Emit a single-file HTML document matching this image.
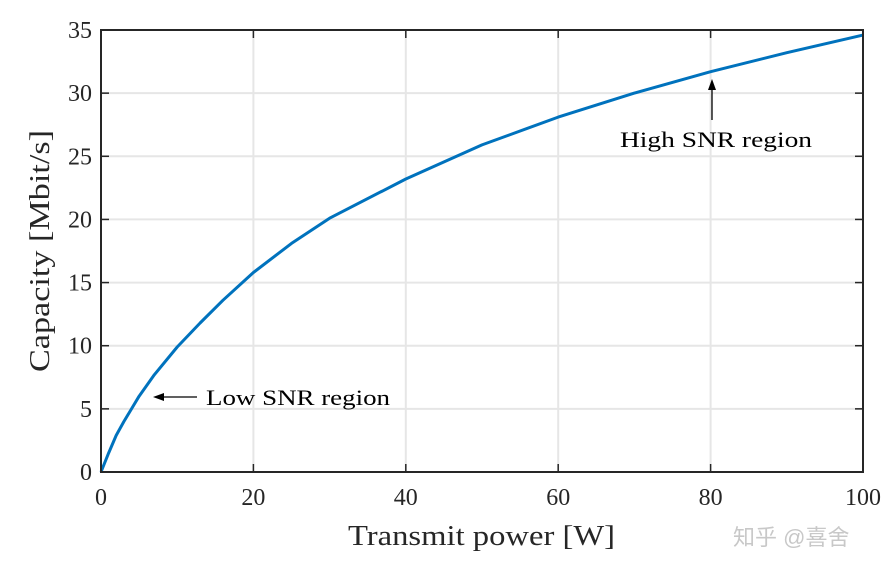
<!DOCTYPE html>
<html><head><meta charset="utf-8"><style>
body{margin:0;background:#fff;}
svg{display:block;font-family:"Liberation Serif",serif;}
</style></head><body>
<svg id="chart" width="895" height="571">
<g id="grid"></g>
<g id="ticks"></g>
<path id="line" fill="none" stroke="#0072bd" stroke-width="3" stroke-linejoin="round"/>
<rect x="101" y="30" width="762" height="442" fill="none" stroke="#262626" stroke-width="2"/>
<text x="348" y="545" font-size="28" textLength="267" lengthAdjust="spacingAndGlyphs" fill="#262626">Transmit power [W]</text>
<text transform="translate(49,372) rotate(-90)" font-size="28" textLength="242" lengthAdjust="spacingAndGlyphs" fill="#262626">Capacity [Mbit/s]</text>
<g>
<line x1="197" y1="397" x2="162" y2="397" stroke="#000" stroke-width="1.3"/>
<path d="M153,397 L164,393 L164,401 Z" fill="#000"/>
<text x="206" y="405" font-size="22" textLength="184" lengthAdjust="spacingAndGlyphs" fill="#000">Low SNR region</text>
</g>
<g>
<line x1="712" y1="120" x2="712" y2="88" stroke="#000" stroke-width="1.3"/>
<path d="M712,79 L708,90 L716,90 Z" fill="#000"/>
<text x="620" y="147" font-size="22" textLength="192" lengthAdjust="spacingAndGlyphs" fill="#000">High SNR region</text>
</g>
<text x="733" y="545" font-size="22" fill="#c8c8c8" font-family="'Liberation Sans','Noto Sans CJK SC',sans-serif">知乎 @喜舍</text>
</svg>
<script>
const powers=[0,1,2,3,4,5,7,10,13,16,20,25,30,40,50,60,70,80,90,100];
const capacity=[0,1.5,2.9,4.0,5.0,6.0,7.7,9.9,11.8,13.6,15.8,18.1,20.1,23.2,25.9,28.1,30.0,31.7,33.2,34.6];
const xTicks=[0,20,40,60,80,100];
const yTicks=[0,5,10,15,20,25,30,35];
const X=v=>101+v/100*762, Y=v=>472-v/35*442;
const NS="http://www.w3.org/2000/svg";
const grid=document.getElementById('grid'), ticks=document.getElementById('ticks');
function mk(tag,attrs,parent){const e=document.createElementNS(NS,tag);for(const k in attrs)e.setAttribute(k,attrs[k]);parent.appendChild(e);return e;}
xTicks.forEach(t=>{
 const g=mk('line',{x1:X(t),x2:X(t),y1:30,y2:472,stroke:'#e6e6e6','stroke-width':2},grid);
 
 
 mk('line',{x1:X(t),x2:X(t),y1:472,y2:464,stroke:'#262626','stroke-width':1.5},ticks);
 mk('line',{x1:X(t),x2:X(t),y1:30,y2:38,stroke:'#262626','stroke-width':1.5},ticks);
 const l=mk('text',{x:X(t),y:505,'font-size':24,'text-anchor':'middle',fill:'#262626'},ticks);
 l.textContent=t;
 
 
});
yTicks.forEach(t=>{
 const g=mk('line',{x1:101,x2:863,y1:Y(t),y2:Y(t),stroke:'#e6e6e6','stroke-width':2},grid);
 
 
 mk('line',{x1:101,x2:109,y1:Y(t),y2:Y(t),stroke:'#262626','stroke-width':1.5},ticks);
 mk('line',{x1:863,x2:855,y1:Y(t),y2:Y(t),stroke:'#262626','stroke-width':1.5},ticks);
 const l=mk('text',{x:92,y:Y(t)+8,'font-size':24,'text-anchor':'end',fill:'#262626'},ticks);
 l.textContent=t;
 
 
});
document.getElementById('line').setAttribute('d',powers.map((p,i)=>(i?'L':'M')+X(p).toFixed(1)+','+Y(capacity[i]).toFixed(1)).join(' '));
</script>
</body></html>
